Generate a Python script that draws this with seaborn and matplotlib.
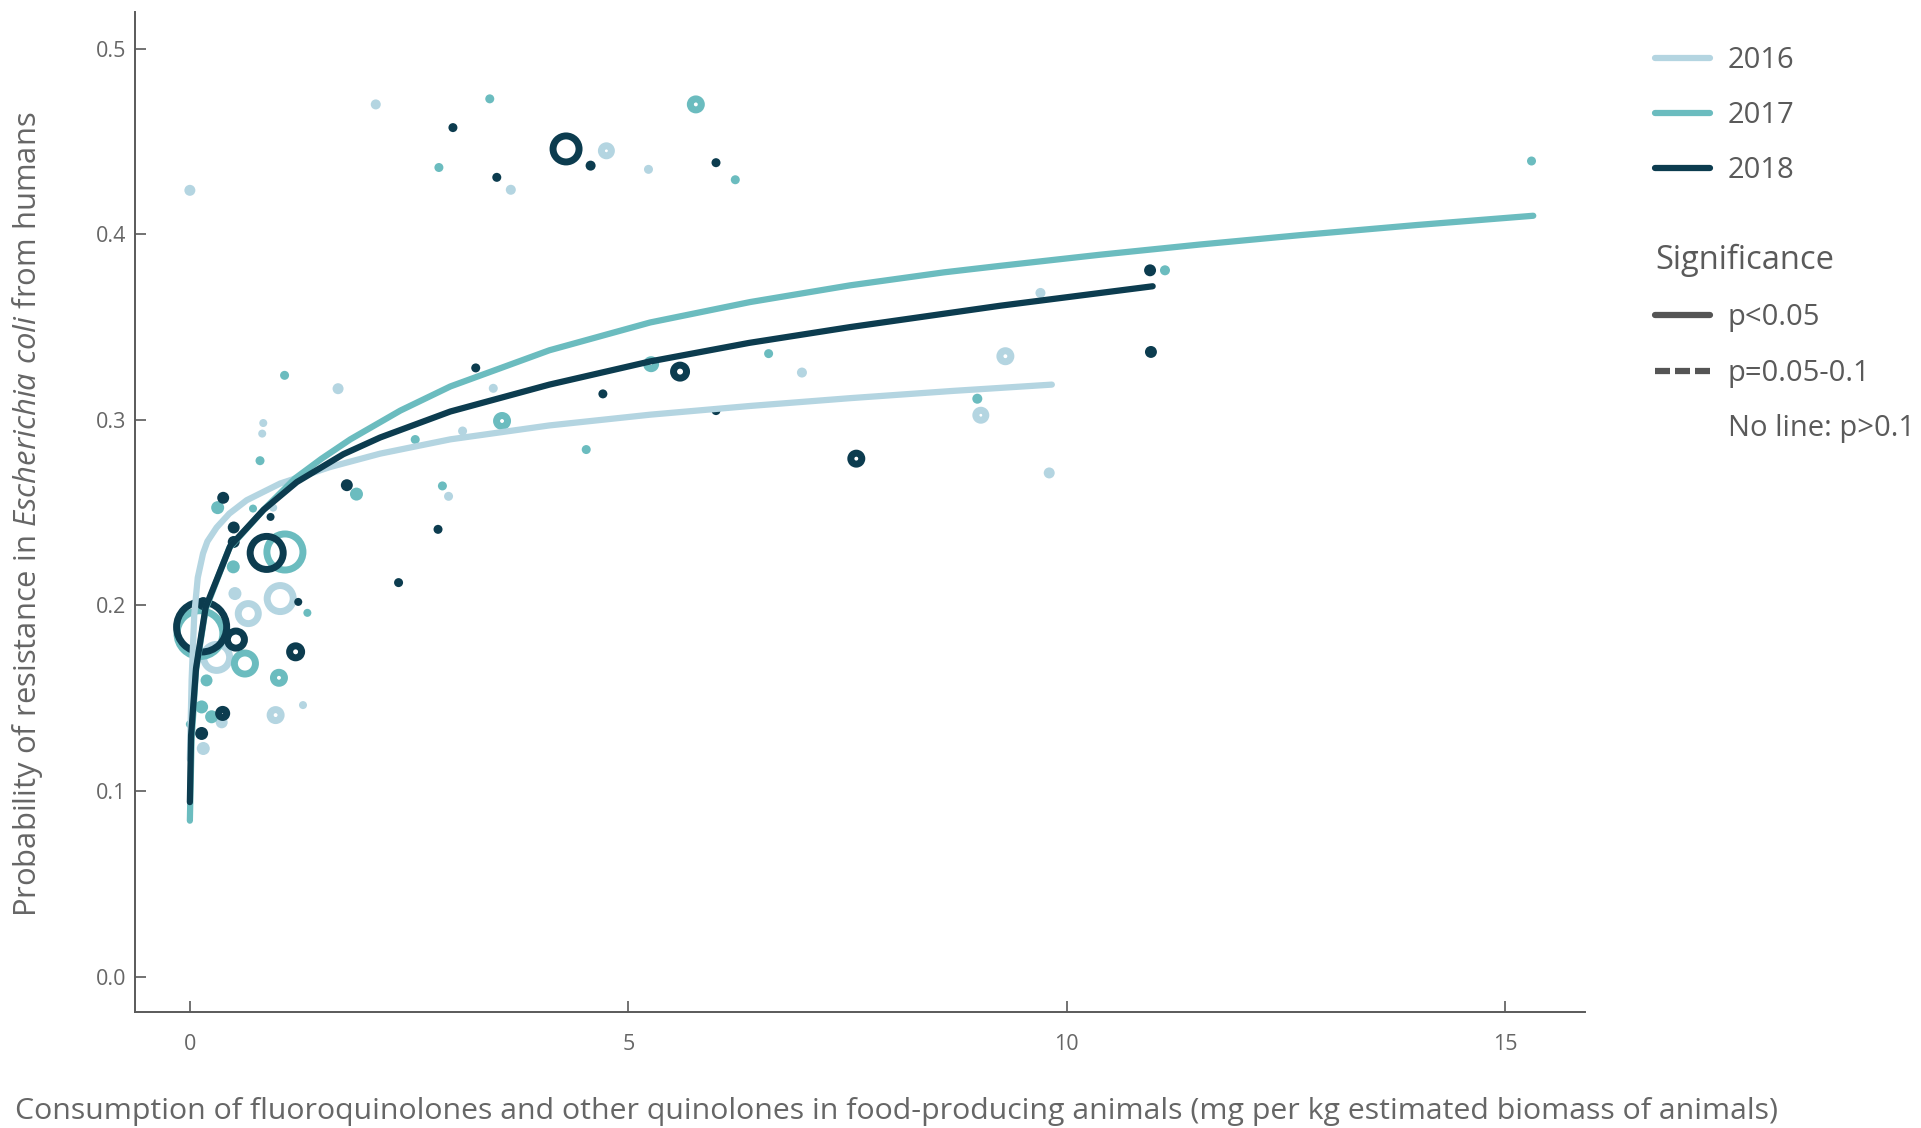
import numpy as np
import pandas as pd
import matplotlib
matplotlib.use("Agg")
import matplotlib.pyplot as plt
import seaborn as sns
from matplotlib.lines import Line2D

# ---------------- data ----------------
years = ["2016", "2017", "2018"]
year_colors = ["#b4d5e1", "#6bbcbf", "#0c3c4f"]

# fitted curves
curve_2016_x = [0.0, 0.02, 0.05, 0.09, 0.15, 0.2, 0.305, 0.45, 0.648, 1.03, 1.6, 2.17, 2.97, 4.1, 5.25, 6.39, 7.53, 8.7, 9.83]
curve_2016_y = [0.117, 0.16, 0.195, 0.215, 0.228, 0.2345, 0.242, 0.2495, 0.2567, 0.2657, 0.2746, 0.2818, 0.2895, 0.2970, 0.3028, 0.3075, 0.3117, 0.3156, 0.3190]

curve_2017_x = [0.0, 0.02, 0.07, 0.18, 0.45, 0.85, 1.2, 1.5, 1.83, 2.4, 2.97, 4.1, 5.25, 6.39, 7.53, 8.6, 9.24, 10.38, 11.52, 12.65, 13.99, 15.32]
curve_2017_y = [0.084, 0.128, 0.165, 0.198, 0.231, 0.252, 0.2685, 0.279, 0.2895, 0.305, 0.318, 0.3375, 0.3525, 0.3635, 0.3725, 0.3795, 0.3830, 0.3890, 0.3945, 0.3995, 0.4050, 0.4100]

curve_2018_x = [0.0, 0.014, 0.07, 0.18, 0.46, 0.84, 1.22, 1.75, 2.17, 2.97, 4.1, 5.25, 6.38, 7.53, 9.24, 10.98]
curve_2018_y = [0.094, 0.13, 0.166, 0.199, 0.232, 0.2515, 0.2665, 0.2815, 0.2905, 0.3045, 0.319, 0.3315, 0.3415, 0.350, 0.3615, 0.372]

# observations: consumption, resistance, weight (number of isolates, relative)
pts_2016_x = [0.0, 2.12, 3.66, 4.75, 5.23, 3.46, 3.11, 2.95, 6.98, 9.70, 9.30, 9.02, 9.80, 1.69,
              0.837, 0.825, 0.95, 0.514, 1.03, 0.666, 0.305, 1.29, 0.978, 0.363, 0.153]
pts_2016_y = [0.4237, 0.470, 0.424, 0.445, 0.435, 0.317, 0.294, 0.2588, 0.3255, 0.3684, 0.3343, 0.3025, 0.2714, 0.3168,
              0.2983, 0.2926, 0.2527, 0.2064, 0.2037, 0.1956, 0.172, 0.1463, 0.1409, 0.137, 0.1229]
pts_2016_n = [8.5, 4.9, 4.9, 52, 2.2, 2.2, 2.2, 2.2, 4.9, 4.9, 63, 52, 8.5, 8.5,
              0.6, 0.6, 0.6, 19, 351, 208, 351, 0.6, 63, 13, 19]

pts_2017_x = [3.42, 2.84, 5.77, 6.22, 15.30, 11.12, 1.08, 0.80, 0.317, 0.72, 1.90, 2.88, 2.57, 4.52,
              3.56, 5.26, 6.6, 8.98, 1.084, 0.495, 1.34, 0.115, 0.628, 1.016, 0.19, 0.134, 0.248, 0.0]
pts_2017_y = [0.473, 0.436, 0.470, 0.4294, 0.4395, 0.3806, 0.324, 0.278, 0.2527, 0.2522, 0.260, 0.2644, 0.2894, 0.284,
              0.2994, 0.330, 0.3357, 0.3114, 0.2288, 0.2208, 0.196, 0.1848, 0.1687, 0.161, 0.1596, 0.1453, 0.140, 0.136]
pts_2017_n = [2.2, 2.2, 63, 2.2, 2.2, 4.9, 2.2, 2.2, 19, 0.6, 19, 2.2, 2.2, 2.2,
              63, 42, 2.2, 4.9, 674, 19, 0.6, 1088, 230, 63, 13, 19, 19, 0.6]

pts_2018_x = [3.0, 3.50, 4.29, 4.57, 6.0, 3.26, 4.71, 5.59, 6.0, 7.60, 10.95, 10.96, 1.79, 2.83,
              2.38, 0.38, 0.92, 0.50, 0.50, 0.876, 1.236, 0.153, 0.134, 0.525, 1.206, 0.374, 0.134]
pts_2018_y = [0.4575, 0.4307, 0.446, 0.437, 0.4386, 0.328, 0.314, 0.326, 0.305, 0.2791, 0.3806, 0.3366, 0.2648, 0.241,
              0.2123, 0.258, 0.2477, 0.242, 0.2342, 0.2283, 0.2019, 0.201, 0.1884, 0.1816, 0.175, 0.1418, 0.131]
pts_2018_n = [2.2, 2.2, 351, 4.9, 2.2, 2.2, 2.2, 88, 2.2, 63, 13, 13, 13, 2.2,
              2.2, 13, 0.6, 13, 13, 566, 0.6, 19, 1300, 151, 75, 34, 19]

x_ticks = [0, 5, 10, 15]
y_ticks = [0.0, 0.1, 0.2, 0.3, 0.4, 0.5]
x_label = "Consumption of fluoroquinolones and other quinolones in food-producing animals (mg per kg estimated biomass of animals)"
y_label = r"Probability of resistance in $\mathit{Escherichia\ coli}$ from humans"
sig_labels = ["p<0.05", "p=0.05-0.1", "No line: p>0.1"]

# ---------------- styling ----------------
sns.set_theme(style="ticks")
plt.rcParams["font.family"] = ["Open Sans", "DejaVu Sans"]
plt.rcParams["mathtext.fontset"] = "custom"
plt.rcParams["mathtext.rm"] = "Open Sans"
plt.rcParams["mathtext.it"] = "Open Sans:italic"
TXT = "#666666"
LEG = "#5a5a5a"
AX = "#5a5a5a"
RING_LW = 5.0       # ring stroke, points
CURVE_LW = 4.5

fig = plt.figure(figsize=(19.21, 11.28), dpi=100)
W, H = 1921, 1128
ax = fig.add_axes([134.8 / W, 1 - 1012 / H, (1585 - 134.8) / W, (1012 - 12) / H])

curves = {
    "2016": (curve_2016_x, curve_2016_y),
    "2017": (curve_2017_x, curve_2017_y),
    "2018": (curve_2018_x, curve_2018_y),
}
points = {
    "2016": (pts_2016_x, pts_2016_y, pts_2016_n),
    "2017": (pts_2017_x, pts_2017_y, pts_2017_n),
    "2018": (pts_2018_x, pts_2018_y, pts_2018_n),
}

n_all = np.array(pts_2016_n + pts_2017_n + pts_2018_n)
ring_rng = (n_all.min(), n_all.max())
dot_area_all = (np.sqrt(n_all) + RING_LW) ** 2
dot_rng = (dot_area_all.min(), dot_area_all.max())

for yr, col in zip(years, year_colors):
    px, py, pn = points[yr]
    df = pd.DataFrame({"x": px, "y": py, "n": pn})
    df["area"] = (np.sqrt(df["n"]) + RING_LW) ** 2
    small = df[np.sqrt(df["n"]) < RING_LW]
    big = df[np.sqrt(df["n"]) >= RING_LW]
    # small samples: solid dots
    sns.scatterplot(data=small, x="x", y="y", size="area", sizes=dot_rng, size_norm=dot_rng,
                    color=col, edgecolor="none", linewidth=0,
                    legend=False, ax=ax, zorder=2)
    # larger samples: open rings
    sns.scatterplot(data=big, x="x", y="y", size="n", sizes=ring_rng, size_norm=ring_rng,
                    facecolor="none", edgecolor=col, linewidth=RING_LW,
                    legend=False, ax=ax, zorder=2)

for yr, col in zip(years, year_colors):
    cx, cy = curves[yr]
    dfc = pd.DataFrame({"x": cx, "y": cy})
    sns.lineplot(data=dfc, x="x", y="y", color=col, lw=CURVE_LW, estimator=None,
                 solid_capstyle="round", solid_joinstyle="round", ax=ax, zorder=3)

ax.set_xlim(-0.628, 15.91)
ax.set_ylim(-0.0191, 0.5198)
ax.set_xticks(x_ticks)
ax.set_xticklabels([str(t) for t in x_ticks])
ax.set_yticks(y_ticks)
ax.set_yticklabels([f"{t:.1f}" for t in y_ticks])

for s in ["top", "right"]:
    ax.spines[s].set_visible(False)
for s in ["left", "bottom"]:
    ax.spines[s].set_color(AX)
    ax.spines[s].set_linewidth(1.4)

ax.tick_params(axis="both", direction="in", length=8, width=1.2, color=AX,
               labelcolor=TXT, labelsize=15.5)
ax.tick_params(axis="y", pad=6)
ax.tick_params(axis="x", pad=16)

ax.set_xlabel(x_label, fontsize=21.8, color=TXT)
ax.set_ylabel(y_label, fontsize=22.3, color=TXT)
ax.xaxis.set_label_coords(0.525, -0.099)
ax.xaxis.label.set_va("center")
ax.yaxis.set_label_coords(-0.0743, 0.498)
ax.yaxis.label.set_va("center")

# ---------------- legends ----------------
LEG_FS = 21.0
year_handles = [Line2D([], [], color=c, lw=CURVE_LW, solid_capstyle="round") for c in year_colors]
leg1 = fig.legend(year_handles, years, loc="upper left",
                  bbox_to_anchor=(1655 / W, 1 - 46 / H), frameon=False,
                  fontsize=LEG_FS, handlelength=1.9, handletextpad=0.6,
                  labelspacing=0.9, borderpad=0, borderaxespad=0, labelcolor=LEG)

sig_handles = [
    Line2D([], [], color="#555555", lw=CURVE_LW, solid_capstyle="round"),
    Line2D([], [], color="#555555", lw=CURVE_LW, linestyle=(0, (2.4, 0.8)), dash_capstyle="butt"),
    Line2D([], [], color="none", lw=0),
]
leg2 = fig.legend(sig_handles, sig_labels, loc="upper left",
                  bbox_to_anchor=(1655 / W, 1 - 244 / H), frameon=False,
                  fontsize=LEG_FS, handlelength=1.9, handletextpad=0.6,
                  labelspacing=0.9, borderpad=0, borderaxespad=0, labelcolor=LEG,
                  title="Significance", title_fontsize=23.5, alignment="left")
leg2.get_title().set_color(LEG)

fig.savefig("out.png", dpi=100)
